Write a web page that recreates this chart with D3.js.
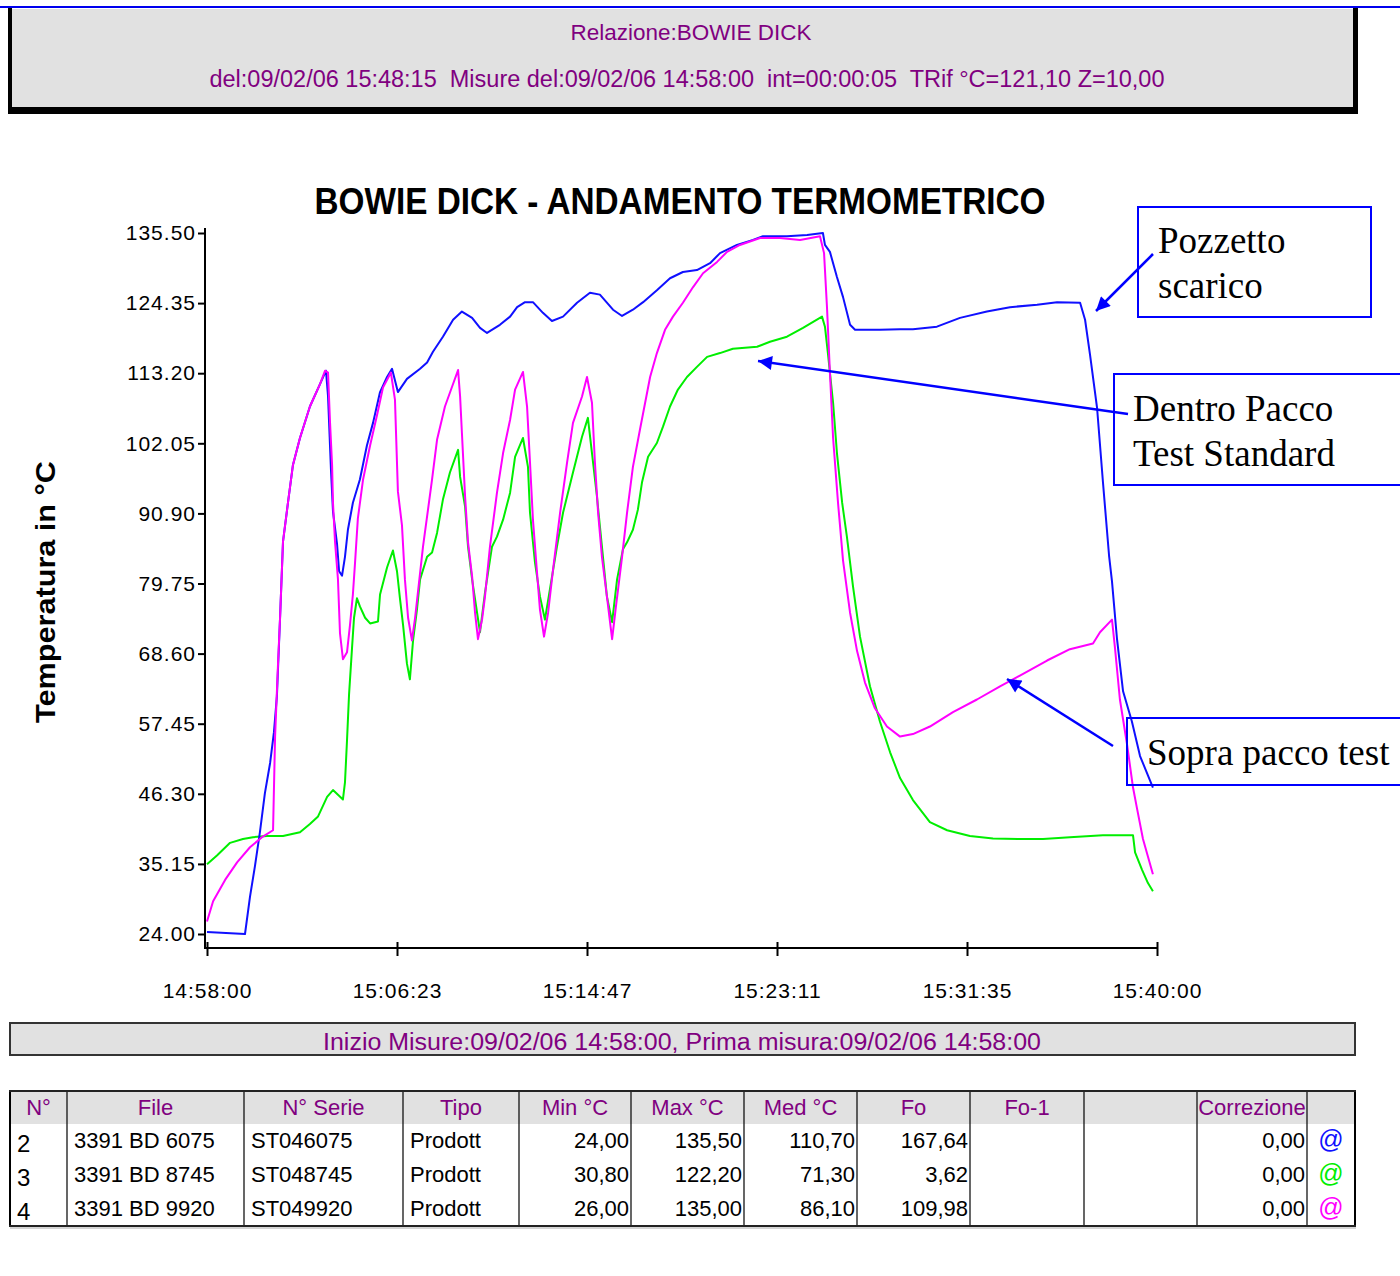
<!DOCTYPE html>
<html>
<head>
<meta charset="utf-8">
<script src="https://cdn.jsdelivr.net/npm/d3@7"></script>
<style>
body { margin: 0; background: #fff; }
</style>
</head>
<body>
<div id="chart"></div>
<script>

// series: [minutes after 14:58:00, temperature in °C]
var pozzetto = [[0,24.3],[1.68,24.0],[1.90,29.9],[2.12,34.8],[2.34,40.2],[2.56,46.4],[2.79,51.2],[2.96,56.1],[3.09,61.8],[3.23,74.3],[3.36,86.4],[3.58,92.6],[3.80,98.6],[4.11,102.9],[4.55,107.9],[5.00,111.5],[5.26,113.6],[5.35,109.6],[5.48,97.9],[5.57,91.2],[5.75,86.0],[5.84,81.7],[5.97,81.0],[6.10,84.0],[6.23,88.3],[6.45,92.6],[6.76,96.3],[7.07,101.7],[7.34,105.3],[7.65,110.2],[7.96,112.6],[8.18,113.9],[8.44,110.2],[8.84,112.3],[9.42,113.9],[9.73,114.9],[9.99,116.6],[10.43,119.0],[10.88,121.7],[11.27,123.0],[11.72,122.0],[12.07,120.4],[12.38,119.6],[12.95,120.9],[13.40,122.2],[13.71,123.7],[14.06,124.5],[14.41,124.5],[14.85,122.8],[15.25,121.5],[15.74,122.2],[16.36,124.4],[16.93,126.0],[17.37,125.7],[17.95,123.3],[18.35,122.3],[18.83,123.3],[19.28,124.5],[19.89,126.4],[20.47,128.3],[21.04,129.3],[21.66,129.6],[22.24,130.7],[22.68,132.3],[23.43,133.6],[24.14,134.4],[24.58,135.0],[25.64,135.0],[26.53,135.2],[27.23,135.5],[27.32,133.6],[27.54,132.5],[27.85,128.5],[28.12,125.3],[28.43,120.9],[28.65,120.1],[29.75,120.1],[30.64,120.2],[31.21,120.2],[32.27,120.6],[33.29,122.0],[34.48,123.0],[35.50,123.7],[36.70,124.1],[37.58,124.5],[38.60,124.4],[38.82,121.7],[39.04,116.1],[39.35,107.7],[39.61,95.9],[39.88,84.2],[40.01,80.1],[40.23,71.0],[40.50,62.6],[40.89,57.8],[41.25,52.3],[41.82,47.3]];

var dentro = [[0,35.1],[0.44,36.5],[1.02,38.5],[1.59,39.1],[2.03,39.4],[2.65,39.6],[3.36,39.6],[4.11,40.2],[4.55,41.5],[4.91,42.7],[5.31,45.8],[5.57,46.9],[6.01,45.4],[6.10,48.1],[6.19,54.8],[6.28,62.1],[6.41,69.4],[6.50,74.3],[6.63,77.4],[6.76,76.1],[6.99,74.3],[7.21,73.4],[7.56,73.7],[7.65,78.0],[7.96,82.3],[8.22,85.0],[8.40,81.7],[8.53,77.4],[8.67,73.1],[8.84,67.0],[8.97,64.5],[9.11,70.7],[9.28,75.5],[9.42,80.4],[9.73,84.0],[9.95,84.7],[10.17,87.8],[10.43,93.1],[10.74,97.4],[11.10,101.0],[11.19,96.7],[11.41,92.0],[11.54,85.6],[11.72,80.4],[11.94,75.1],[12.07,72.0],[12.29,78.3],[12.60,85.6],[12.82,87.2],[13.09,89.9],[13.40,94.2],[13.62,99.9],[13.97,102.9],[14.19,98.3],[14.28,91.0],[14.50,83.1],[14.72,77.7],[14.94,74.0],[15.16,78.8],[15.47,85.6],[15.74,91.0],[16.18,97.4],[16.58,103.1],[16.84,106.1],[17.02,100.5],[17.24,93.6],[17.46,85.6],[17.68,77.7],[17.91,73.6],[18.13,80.4],[18.39,85.2],[18.57,86.3],[18.83,88.3],[19.05,91.5],[19.23,95.8],[19.50,99.9],[19.89,102.1],[20.16,104.7],[20.47,107.9],[20.82,110.6],[21.22,112.6],[21.66,114.2],[22.11,115.8],[22.68,116.4],[23.25,117.1],[24.32,117.4],[24.89,118.2],[25.64,119.0],[26.35,120.4],[27.19,122.2],[27.32,120.6],[27.45,116.4],[27.68,108.5],[27.85,100.5],[28.08,92.6],[28.29,87.2],[28.56,79.3],[28.87,71.3],[29.31,63.4],[29.75,57.8],[30.20,52.9],[30.64,48.8],[31.21,45.3],[31.96,41.8],[32.72,40.5],[33.73,39.6],[34.75,39.2],[35.94,39.1],[36.96,39.1],[38.15,39.4],[39.61,39.7],[40.94,39.7],[41.03,37.0],[41.34,34.2],[41.60,32.1],[41.82,30.8]];

var sopra = [[0,26.0],[0.27,29.2],[0.80,32.6],[1.33,35.4],[1.90,37.8],[2.43,39.4],[2.92,40.5],[3.01,55.4],[3.14,67.0],[3.23,74.3],[3.36,86.4],[3.58,92.6],[3.80,98.6],[4.11,102.9],[4.55,107.9],[5.00,111.5],[5.22,113.6],[5.35,113.3],[5.44,105.3],[5.53,98.6],[5.57,92.6],[5.66,86.4],[5.79,80.4],[5.88,71.8],[6.01,67.7],[6.19,68.8],[6.32,73.1],[6.45,78.0],[6.54,82.8],[6.67,90.1],[6.90,96.3],[7.21,101.7],[7.52,106.6],[7.78,110.9],[8.13,113.3],[8.31,109.0],[8.44,94.4],[8.62,89.0],[8.75,80.4],[8.89,74.3],[9.06,70.7],[9.20,74.3],[9.55,85.6],[9.95,96.3],[10.17,102.6],[10.52,107.9],[10.83,111.0],[11.10,113.7],[11.19,109.5],[11.27,103.7],[11.41,93.6],[11.54,86.3],[11.72,80.9],[11.85,75.1],[11.98,70.9],[12.16,74.0],[12.29,77.7],[12.51,85.6],[12.82,94.2],[13.09,100.5],[13.40,105.8],[13.62,110.6],[13.97,113.4],[14.15,107.9],[14.28,99.0],[14.41,89.9],[14.59,81.5],[14.72,75.6],[14.90,71.3],[15.08,75.1],[15.30,82.0],[15.61,91.0],[15.92,99.0],[16.18,105.3],[16.58,109.5],[16.80,112.6],[17.02,108.5],[17.15,99.0],[17.29,91.0],[17.46,84.0],[17.68,77.7],[17.91,70.9],[18.08,76.1],[18.35,84.0],[18.57,91.0],[18.83,98.3],[19.14,104.2],[19.59,112.6],[19.89,116.4],[20.25,120.1],[20.60,122.2],[21.04,124.4],[21.49,126.9],[21.93,129.1],[22.55,130.9],[22.99,132.5],[23.56,133.6],[24.45,134.7],[25.33,134.7],[26.22,134.4],[27.10,135.0],[27.28,132.3],[27.41,123.7],[27.54,113.3],[27.68,102.9],[27.90,92.5],[28.12,83.4],[28.43,75.1],[28.74,69.0],[29.09,64.0],[29.53,59.9],[30.06,57.0],[30.64,55.4],[31.21,55.8],[31.96,57.0],[32.98,59.3],[34.04,61.3],[35.06,63.4],[35.94,65.1],[37.14,67.5],[38.15,69.3],[39.17,70.2],[39.48,72.0],[40.01,74.0],[40.14,69.6],[40.36,61.3],[40.67,54.3],[40.94,47.3],[41.12,43.9],[41.38,39.1],[41.82,33.5]];

var xTickMinutes = [0, 8.4, 16.8, 25.2, 33.6, 42];
var xTickLabels = ["14:58:00", "15:06:23", "15:14:47", "15:23:11", "15:31:35", "15:40:00"];
var yTicks = [24.00, 35.15, 46.30, 57.45, 68.60, 79.75, 90.90, 102.05, 113.20, 124.35, 135.50];

var tableHead = ["N°", "File", "N° Serie", "Tipo", "Min °C", "Max °C", "Med °C", "Fo", "Fo-1", "", "Correzione", ""];
var tableRows = [
  ["2", "3391 BD 6075", "ST046075", "Prodott", "24,00", "135,50", "110,70", "167,64", "", "", "0,00", "@"],
  ["3", "3391 BD 8745", "ST048745", "Prodott", "30,80", "122,20", "71,30", "3,62", "", "", "0,00", "@"],
  ["4", "3391 BD 9920", "ST049920", "Prodott", "26,00", "135,00", "86,10", "109,98", "", "", "0,00", "@"]
];

// layout
var W = 1400, H = 1276;
var narrow = "'Liberation Sans Narrow','Arial Narrow','Liberation Sans',Arial,sans-serif";
var sans = "'Liberation Sans',Arial,sans-serif";
var serif = "'Liberation Serif','Times New Roman',serif";
var purple = "#800080";
var annBlue = "#0000ff";
var colors = {pozzetto: "#1010ff", dentro: "#00ee00", sopra: "#ff00ff"};

var svg = d3.select("#chart").append("svg")
  .attr("width", W)
  .attr("height", H)
  .style("font-family", sans);

svg.append("rect").attr("width", W).attr("height", H).attr("fill", "#fff");

// --- report header box
svg.append("rect").attr("x", 0).attr("y", 6).attr("width", W).attr("height", 2).attr("fill", "#0000ee");
svg.append("rect").attr("x", 10).attr("y", 9).attr("width", 1345).attr("height", 98).attr("fill", "#e1e1e1");
svg.append("rect").attr("x", 8).attr("y", 8).attr("width", 4).attr("height", 106).attr("fill", "#000");
svg.append("rect").attr("x", 1353).attr("y", 8).attr("width", 5).attr("height", 106).attr("fill", "#000");
svg.append("rect").attr("x", 8).attr("y", 107).attr("width", 1350).attr("height", 7).attr("fill", "#000");

svg.append("text")
  .attr("x", 691).attr("y", 40)
  .attr("text-anchor", "middle")
  .attr("textLength", 241).attr("lengthAdjust", "spacingAndGlyphs")
  .style("font-family", narrow).style("font-size", "22px").style("fill", purple)
  .text("Relazione:BOWIE DICK");

svg.append("text")
  .attr("x", 687).attr("y", 87)
  .attr("text-anchor", "middle")
  .attr("textLength", 955).attr("lengthAdjust", "spacingAndGlyphs")
  .style("font-family", narrow).style("font-size", "23px").style("fill", purple)
  .attr("xml:space", "preserve")
  .text("del:09/02/06 15:48:15  Misure del:09/02/06 14:58:00  int=00:00:05  TRif °C=121,10 Z=10,00");

// --- chart
var x = d3.scaleLinear().domain([0, 42]).range([207, 1157]);
var y = d3.scaleLinear().domain([24, 135.5]).range([934, 233]);

svg.append("text")
  .attr("x", 680).attr("y", 214)
  .attr("text-anchor", "middle")
  .attr("textLength", 731).attr("lengthAdjust", "spacingAndGlyphs")
  .style("font-family", narrow).style("font-weight", "bold").style("font-size", "36px").style("fill", "#000")
  .text("BOWIE DICK - ANDAMENTO TERMOMETRICO");

svg.append("text")
  .attr("transform", "translate(55,592) rotate(-90)")
  .attr("text-anchor", "middle")
  .attr("textLength", 262).attr("lengthAdjust", "spacingAndGlyphs")
  .style("font-weight", "bold").style("font-size", "28px").style("fill", "#000")
  .text("Temperatura in °C");

// y axis
var yAxis = svg.append("g")
  .attr("transform", "translate(205,0)")
  .call(d3.axisLeft(y).tickValues(yTicks).tickFormat(d3.format(".2f")).tickSize(7).tickPadding(2));
yAxis.select(".domain").remove();
yAxis.selectAll("line").attr("stroke", "#000").attr("stroke-width", 2);
yAxis.selectAll("text")
  .style("font-family", sans).style("font-size", "21px").style("letter-spacing", "1px").attr("fill", "#000");

// x axis
var xAxis = svg.append("g")
  .attr("transform", "translate(0,948)")
  .call(d3.axisBottom(x).tickValues(xTickMinutes)
    .tickFormat(function(d, i) { return xTickLabels[i]; })
    .tickSize(8).tickPadding(27));
xAxis.select(".domain").remove();
xAxis.selectAll("line").attr("y1", -6).attr("stroke", "#000").attr("stroke-width", 2);
xAxis.selectAll("text")
  .style("font-family", sans).style("font-size", "21px").style("letter-spacing", "1px").attr("fill", "#000");

// axis lines
svg.append("line").attr("x1", 205).attr("x2", 205).attr("y1", 228).attr("y2", 949)
  .attr("stroke", "#000").attr("stroke-width", 2);
svg.append("line").attr("x1", 204).attr("x2", 1158).attr("y1", 948).attr("y2", 948)
  .attr("stroke", "#000").attr("stroke-width", 2);

// temperature lines
var line = d3.line()
  .x(function(d) { return x(d[0]); })
  .y(function(d) { return y(d[1]); });

[["dentro", dentro], ["pozzetto", pozzetto], ["sopra", sopra]].forEach(function(s) {
  svg.append("path")
    .datum(s[1])
    .attr("d", line)
    .attr("fill", "none")
    .attr("stroke", colors[s[0]])
    .attr("stroke-width", 2)
    .attr("stroke-linejoin", "round");
});

// --- annotations
var defs = svg.append("defs");
defs.append("marker")
  .attr("id", "head")
  .attr("viewBox", "0 0 10 10")
  .attr("refX", 10).attr("refY", 5)
  .attr("markerUnits", "userSpaceOnUse")
  .attr("markerWidth", 20).attr("markerHeight", 14)
  .attr("orient", "auto")
  .append("path").attr("d", "M0,0 L10,5 L0,10 Z").attr("fill", annBlue);

var notes = [
  {box: [1138, 207, 233, 110], lines: ["Pozzetto", "scarico"], tx: 1158, ty: 253, arrow: [1153, 254, 1096, 311]},
  {box: [1114, 374, 300, 111], lines: ["Dentro Pacco", "Test Standard"], tx: 1133, ty: 421, arrow: [1128, 414, 758, 361]},
  {box: [1127, 718, 290, 67], lines: ["Sopra pacco test"], tx: 1147, ty: 765, arrow: [1113, 746, 1007, 679]}
];

notes.forEach(function(n) {
  svg.append("rect")
    .attr("x", n.box[0]).attr("y", n.box[1]).attr("width", n.box[2]).attr("height", n.box[3])
    .attr("fill", "none").attr("stroke", annBlue).attr("stroke-width", 2);
  n.lines.forEach(function(t, i) {
    svg.append("text")
      .attr("x", n.tx).attr("y", n.ty + i * 45)
      .style("font-family", serif).style("font-size", "37px").style("fill", "#000")
      .text(t);
  });
  svg.append("line")
    .attr("x1", n.arrow[0]).attr("y1", n.arrow[1]).attr("x2", n.arrow[2]).attr("y2", n.arrow[3])
    .attr("stroke", annBlue).attr("stroke-width", 2.5)
    .attr("marker-end", "url(#head)");
});

// --- footer bar
svg.append("rect").attr("x", 10).attr("y", 1023).attr("width", 1345).attr("height", 32)
  .attr("fill", "#e1e1e1").attr("stroke", "#333").attr("stroke-width", 2);
svg.append("text")
  .attr("x", 682).attr("y", 1050)
  .attr("text-anchor", "middle")
  .attr("textLength", 718).attr("lengthAdjust", "spacingAndGlyphs")
  .style("font-family", narrow).style("font-size", "23px").style("fill", purple)
  .text("Inizio Misure:09/02/06 14:58:00, Prima misura:09/02/06 14:58:00");

// --- table
var colEdges = [10, 67, 244, 403, 519, 631, 744, 857, 970, 1084, 1197, 1307, 1355];
var colAlign = ["start", "start", "start", "start", "end", "end", "end", "end", "end", "end", "end", "middle"];
var tTop = 1091, headH = 33, rowH = 34;
var tBottom = tTop + headH + rowH * tableRows.length;
var atColors = [colors.pozzetto, colors.dentro, colors.sopra];

svg.append("rect").attr("x", 10).attr("y", tTop).attr("width", 1345).attr("height", headH).attr("fill", "#e1e1e1");

var table = svg.append("g");
table.selectAll(".vline")
  .data(colEdges)
  .enter().append("line")
  .attr("x1", function(d) { return d; }).attr("x2", function(d) { return d; })
  .attr("y1", tTop).attr("y2", tBottom)
  .attr("stroke", "#000")
  .attr("stroke-width", function(d, i) { return (i == 0 || i == colEdges.length - 1) ? 2 : 1.2; });
[tTop, tBottom].forEach(function(yy) {
  table.append("line").attr("x1", 9).attr("x2", 1356).attr("y1", yy).attr("y2", yy)
    .attr("stroke", "#222").attr("stroke-width", 2);
});
table.append("line").attr("x1", 10).attr("x2", 1356).attr("y1", tBottom + 2).attr("y2", tBottom + 2)
  .attr("stroke", "#aaa").attr("stroke-width", 1);

function cellX(i, align) {
  if (align == "start") return colEdges[i] + 7;
  if (align == "end") return colEdges[i + 1] - 2;
  return (colEdges[i] + colEdges[i + 1]) / 2;
}

table.selectAll(".head")
  .data(tableHead)
  .enter().append("text")
  .attr("x", function(d, i) { return (colEdges[i] + colEdges[i + 1]) / 2; })
  .attr("y", tTop + 24)
  .attr("text-anchor", "middle")
  .style("font-family", narrow).style("font-size", "22px").style("fill", purple)
  .text(function(d) { return d; });

tableRows.forEach(function(row, r) {
  table.selectAll(".row" + r)
    .data(row)
    .enter().append("text")
    .attr("x", function(d, i) { return cellX(i, colAlign[i]); })
    .attr("y", function(d, i) { return tTop + headH + rowH * r + (i == 0 ? 28 : 24); })
    .attr("text-anchor", function(d, i) { return colAlign[i]; })
    .style("font-family", function(d, i) { return i == 0 || i == 11 ? sans : narrow; })
    .style("font-size", function(d, i) { return i == 0 ? "24px" : (i == 11 ? "25px" : "22px"); })
    .style("fill", function(d, i) { return i == 11 ? atColors[r] : "#000"; })
    .text(function(d) { return d; });
});

</script>
</body>
</html>
